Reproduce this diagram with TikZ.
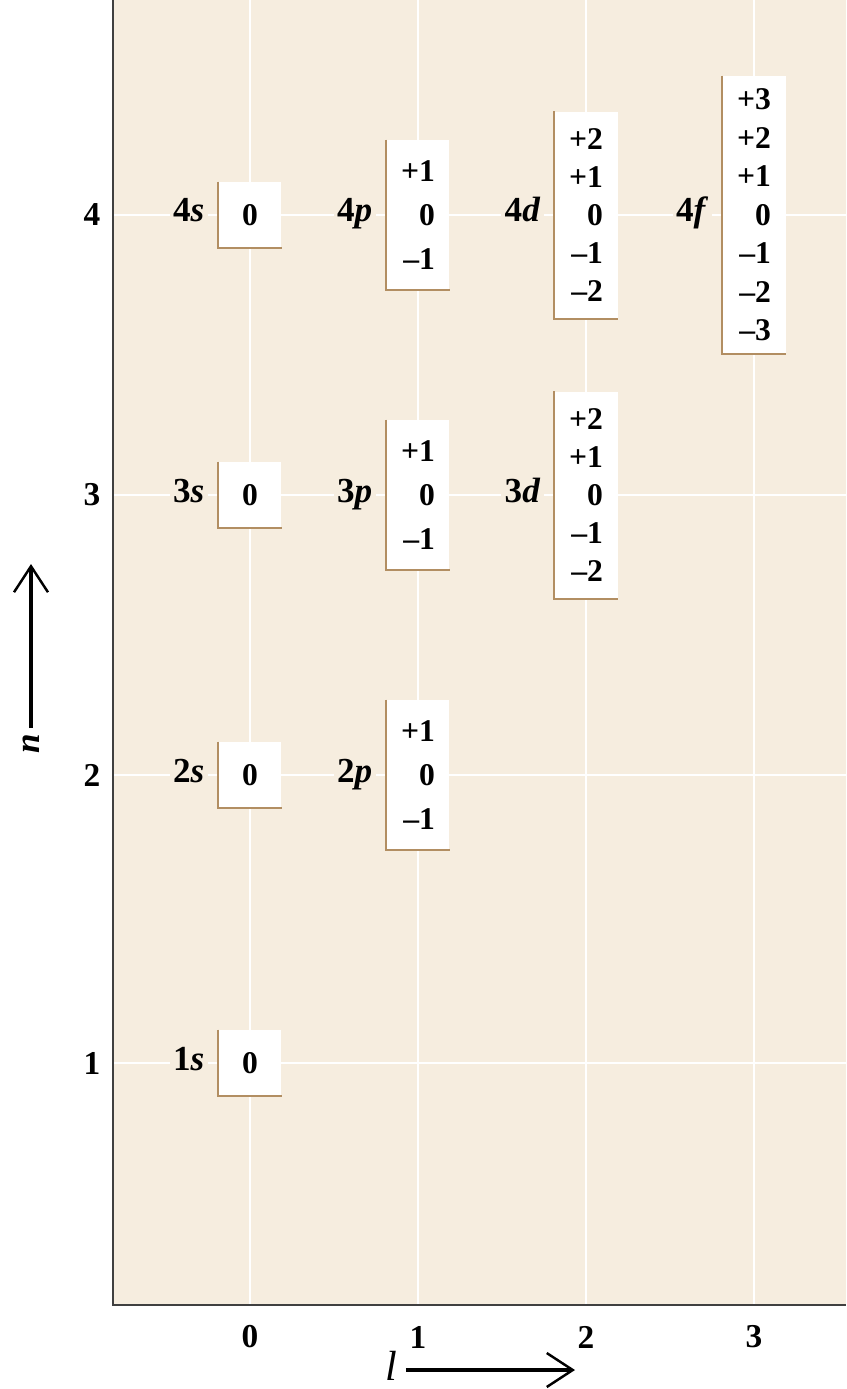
\documentclass[tikz,border=0pt]{standalone}
\usepackage{fontspec}
\setmainfont{Liberation Serif}
\usetikzlibrary{positioning,arrows.meta}
\definecolor{paper}{RGB}{246,237,223}
\definecolor{rim}{RGB}{178,142,98}
% m_l values of each subshell
\newcommand{\mls}{0}
\newcommand{\mlp}{+1\\0\\–1}
\newcommand{\mld}{+2\\+1\\0\\–1\\–2}
\newcommand{\mlf}{+3\\+2\\+1\\0\\–1\\–2\\–3}
\tikzset{
  orb/.style={fill=white, inner sep=0pt, minimum width=1.26cm, align=right},
  box s/.style={minimum height=1.32cm, font=\fontsize{18}{21.6}\selectfont\bfseries},
  box p/.style={minimum height=3cm, font=\fontsize{18}{25}\selectfont\bfseries},
  box d/.style={minimum height=4.14cm, font=\fontsize{18}{21.6}\selectfont\bfseries},
  box f/.style={minimum height=5.56cm, font=\fontsize{18}{21.9}\selectfont\bfseries},
  sub/.style={fill=paper, inner sep=2pt, text height=0.4cm, text depth=0.12cm,
    font=\fontsize{20}{22}\selectfont\bfseries},
  tick/.style={font=\fontsize{19}{21}\selectfont\bfseries},
  rim/.style={draw=rim, line width=1.2pt},
  gridline/.style={white, line width=1.2pt},
  bigarrow/.style={line width=1.8pt, -{Straight Barb[length=5.2mm,width=6.8mm,line width=1.4pt]}}
}
\begin{document}
\begin{tikzpicture}[x=0.02cm,y=-0.02cm]
  \useasboundingbox (0,0) rectangle (846,1389);
  % panel
  \fill[paper] (113,0) rectangle (846,1305);
  % grid lines
  \foreach \x in {250,418,586,754}
    \draw[gridline] (\x,0) -- (\x,1305);
  \foreach \y in {215,495,775,1063}
    \draw[gridline] (113,\y) -- (846,\y);
  % axes
  \draw[line width=1.3pt, black!75] (113,0) |- (846,1305);
  % n and l values
  \foreach \n/\y in {1/1063,2/775,3/495,4/215}
    \node[tick] (n\n) at (92,\y) {\n};
  \foreach \l/\x in {0/250,1/418,2/586,3/754}
    \node[tick] (l\l) at (\x,1337) {\l};
  % subshells with their m_l values
  \foreach \n/\y in {1/1063,2/775,3/495,4/215}
    \foreach \l/\x/\s in {0/250/s,1/418/p,2/586/d,3/754/f}{
      \ifnum\l<\n
        \node[orb, box \s] (b\n\s) at (\x,\y) {\csname ml\s\endcsname};
        \draw[rim] (b\n\s.north west) |- (b\n\s.south east);
        \node[sub, left=0.2cm of b\n\s] (t\n\s) {\n\textit{\s}};
      \fi
    }
  % axis arrows
  \node[rotate=90, font=\fontsize{20}{22}\selectfont\bfseries\itshape] (nlab) at (31,744) {n};
  \coordinate (ntip) at (31,564);
  \draw[bigarrow] (nlab.east) -- (ntip);
  \node[font=\fontsize{24}{26}\selectfont\itshape, anchor=base, inner sep=1pt] (llab) at (391,1380) {l};
  \coordinate (ltip) at (575,1370);
  \draw[bigarrow, shorten <=4pt] (llab.east |- ltip) -- (ltip);
\end{tikzpicture}
\end{document}
